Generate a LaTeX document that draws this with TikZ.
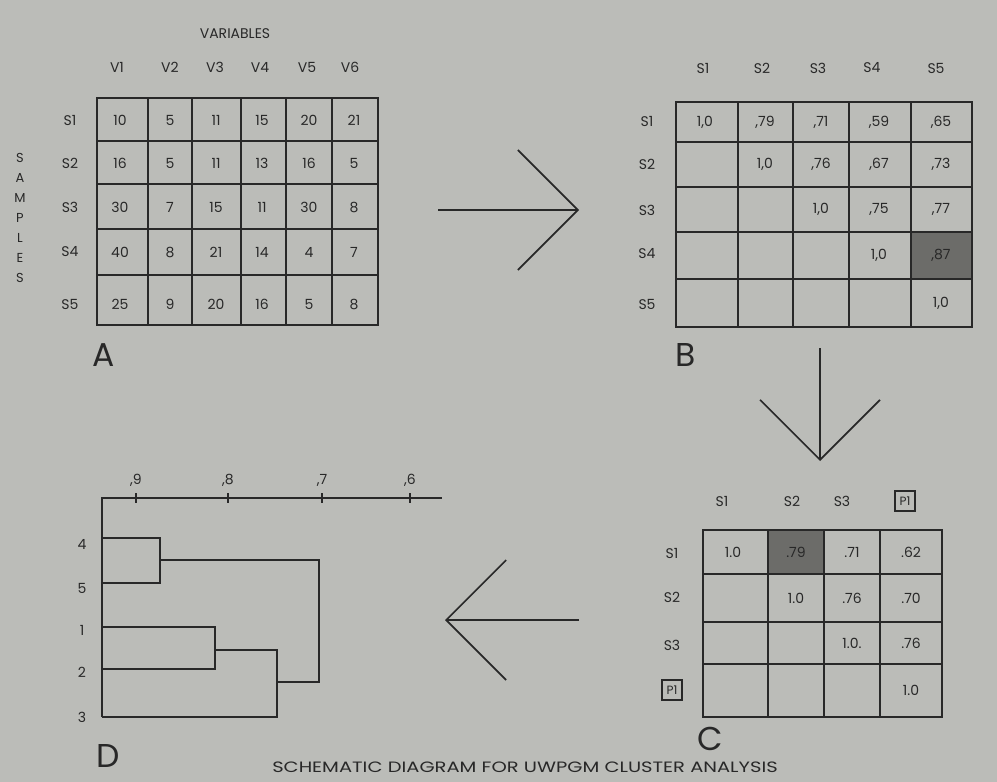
\documentclass[tikz,border=0pt]{standalone}
\usepackage{fontspec}
\setmainfont{Poppins}
\usepackage{tikz}
\usetikzlibrary{arrows.meta,calc,positioning}
\definecolor{paper}{RGB}{187,188,184}
\definecolor{ink}{RGB}{40,40,40}
\definecolor{darkcell}{RGB}{108,108,105}

\tikzset{
  gridline/.style={draw=ink, line width=1.4pt},
  cell/.style={font=\fontsize{14}{16}\selectfont, text=ink, inner sep=0pt},
  headlabel/.style={font=\fontsize{14}{16}\selectfont, text=ink, inner sep=0pt},
  panel/.style={font=\fontsize{33}{36}\selectfont, text=ink, inner sep=0pt},
  bigarrow/.style={draw=ink, line width=1.6pt, -{Straight Barb[length=60pt, width=120pt, line width=1.6pt]}},
  tree/.style={draw=ink, line width=1.3pt},
  boxlabel/.style={draw=ink, line width=1.2pt, font=\fontsize{12}{14}\selectfont, text=ink, inner sep=2pt, minimum size=20pt}
}

\begin{document}
\begin{tikzpicture}[x=1pt, y=-1pt]
  % Paper background
  \useasboundingbox (0,0) rectangle (997,782);
  \fill[paper] (0,0) rectangle (997,782);

  % Draw matrix A (samples by variables)
  \node[headlabel] (vars) at (235,34) {VARIABLES};
  \foreach \x [count=\j] in {117,170,215,260,307,350}
    \node[headlabel] (V\j) at (\x,67) {V\j};
  \foreach \y [count=\i] in {120,163,207,252,304}
    \node[headlabel] (SA\i) at (70,\y) {S\i};
  \foreach \ch [count=\k] in {S,A,M,P,L,E,S}
    \node[headlabel, font=\fontsize{13}{15}\selectfont] (samp\k) at (20,{138+20*\k}) {\ch};
  \draw[gridline] (97,98) rectangle (378,325);
  \foreach \x in {148,192,241,286,332}
    \draw[gridline] (\x,98) -- (\x,325);
  \foreach \y in {141,184,229,275}
    \draw[gridline] (97,\y) -- (378,\y);
  \foreach \row [count=\i] in {{10,5,11,15,20,21},{16,5,11,13,16,5},{30,7,15,11,30,8},{40,8,21,14,4,7},{25,9,20,16,5,8}}
    \foreach \v [count=\j] in \row {
      \pgfmathsetmacro{\cx}{{120,170,216,262,309,354}[\j-1]}
      \pgfmathsetmacro{\cy}{{120,163,207,252,304}[\i-1]}
      \node[cell] (A-\i-\j) at (\cx,\cy) {\v};
    }
  \node[panel] (labA) at (104,355) {A};

  % Arrow from A to B
  \coordinate (ab1) at (438,210);
  \coordinate (ab2) at (579,210);
  \draw[bigarrow] (ab1) -- (ab2);

  % Draw matrix B (similarity matrix)
  \foreach \x [count=\j] in {703,762,818,872,936}
    \node[headlabel] (SBc\j) at (\x,68) {S\j};
  \foreach \y [count=\i] in {121,164,210,254,304}
    \node[headlabel] (SBr\i) at (647,\y) {S\i};
  \fill[darkcell] (911,232) rectangle (972,279);
  \draw[gridline] (676,102) rectangle (972,327);
  \foreach \x in {738,793,849,911}
    \draw[gridline] (\x,102) -- (\x,327);
  \foreach \y in {142,187,232,279}
    \draw[gridline] (676,\y) -- (972,\y);
  \foreach \i in {1,...,5} {
    \pgfmathsetmacro{\cx}{{705,765,821,879,941}[\i-1]}
    \pgfmathsetmacro{\cy}{{122,164,209,255,303}[\i-1]}
    \node[cell] (B-\i-\i) at (\cx,\cy) {1,0};
  }
  \foreach \i/\j/\v in {1/2/79,1/3/71,1/4/59,1/5/65,2/3/76,2/4/67,2/5/73,3/4/75,3/5/77,4/5/87} {
    \pgfmathsetmacro{\cx}{{705,765,821,879,941}[\j-1]}
    \pgfmathsetmacro{\cy}{{122,164,209,255,303}[\i-1]}
    \node[cell] (B-\i-\j) at (\cx,\cy) {,\v};
  }
  \node[panel] (labB) at (686,355) {B};

  % Arrow from B to C
  \coordinate (bc1) at (820,348);
  \coordinate (bc2) at (820,461);
  \draw[bigarrow] (bc1) -- (bc2);

  % Draw matrix C (after first merge)
  \foreach \x [count=\j] in {722,792,842}
    \node[headlabel] (SCc\j) at (\x,501) {S\j};
  \node[boxlabel] (PCc) at (905,501) {P1};
  \foreach \y [count=\i] in {553,597,645}
    \node[headlabel] (SCr\i) at (672,\y) {S\i};
  \node[boxlabel] (PCr) at (672,690) {P1};
  \fill[darkcell] (768,530) rectangle (824,574);
  \draw[gridline] (703,530) rectangle (942,717);
  \foreach \x in {768,824,880}
    \draw[gridline] (\x,530) -- (\x,717);
  \foreach \y in {574,622,664}
    \draw[gridline] (703,\y) -- (942,\y);
  \foreach \i/\j/\v in {1/1/1.0,2/2/1.0,3/3/1.0.,4/4/1.0,1/2/.79,1/3/.71,1/4/.62,2/3/.76,2/4/.70,3/4/.76} {
    \pgfmathsetmacro{\cx}{{733,796,852,911}[\j-1]}
    \pgfmathsetmacro{\cy}{{552,598,643,690}[\i-1]}
    \node[cell] (C-\i-\j) at (\cx,\cy) {\v};
  }
  \node[panel] (labC) at (710,739) {C};

  % Arrow from C to D
  \coordinate (cd1) at (579,620);
  \coordinate (cd2) at (445,620);
  \draw[bigarrow] (cd1) -- (cd2);

  % Draw dendrogram D
  \draw[tree] (102,717) -- (102,498) -- (442,498);
  \foreach \x/\t in {136/9,228/8,322/7,410/6} {
    \draw[tree] (\x,493) -- (\x,503);
    \node[cell] (tick\t) at (\x,480) {,\t};
  }
  \foreach \y/\t in {544/4,588/5,630/1,672/2,717/3}
    \node[cell] (leaf\t) at (82,\y) {\t};
  \draw[tree] (102,538) -- (160,538) -- (160,583) -- (102,583);
  \draw[tree] (160,560) -- (319,560) -- (319,682) -- (277,682);
  \draw[tree] (102,627) -- (215,627) -- (215,669) -- (102,669);
  \draw[tree] (215,650) -- (277,650) -- (277,717) -- (102,717);
  \node[panel] (labD) at (108,756) {D};

  % Caption
  \node[headlabel, font=\fontsize{15}{17}\selectfont] (caption) at (525,767) {\scalebox{1.3}[1]{SCHEMATIC DIAGRAM FOR UWPGM CLUSTER ANALYSIS}};
\end{tikzpicture}
\end{document}
